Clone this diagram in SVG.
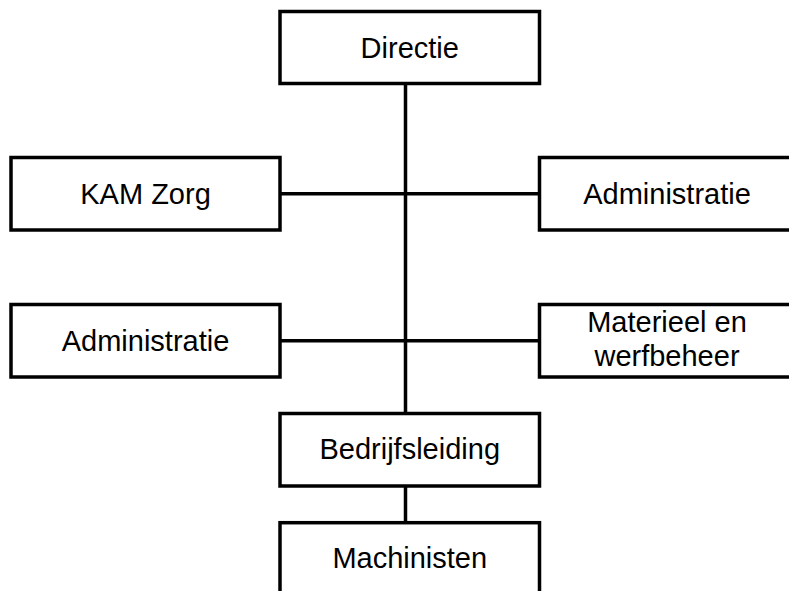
<svg xmlns="http://www.w3.org/2000/svg" width="789" height="591" viewBox="0 0 789 591">
<style>
.box{fill:#fff;stroke:#000;stroke-width:3.5}
.lbl{font-family:"Liberation Sans",Arial,sans-serif;font-size:29px;fill:#000;text-anchor:middle}
.con{stroke:#000;stroke-width:3.5;fill:none}
</style>
<rect width="789" height="591" fill="#fff"/>
<g id="connectors">
<line class="con" x1="405.5" y1="83.5" x2="405.5" y2="413.5"/>
<line class="con" x1="280" y1="193.75" x2="539.5" y2="193.75"/>
<line class="con" x1="280" y1="340.75" x2="539.5" y2="340.75"/>
<line class="con" x1="405.5" y1="486" x2="405.5" y2="522.7"/>
</g>
<g id="directie">
<rect class="box" x="280" y="11.5" width="259.5" height="72"/>
<text class="lbl" x="409.75" y="57.8">Directie</text>
</g>
<g id="kam-zorg">
<rect class="box" x="11" y="157.5" width="269" height="72.5"/>
<text class="lbl" x="145.5" y="203.8">KAM Zorg</text>
</g>
<g id="administratie-rechts">
<rect class="box" x="539.5" y="157.5" width="262" height="72.5"/>
<text class="lbl" x="667" y="203.8">Administratie</text>
</g>
<g id="administratie-links">
<rect class="box" x="11" y="304.5" width="269" height="72.5"/>
<text class="lbl" x="145.5" y="350.8">Administratie</text>
</g>
<g id="materieel">
<rect class="box" x="539.5" y="304.5" width="262" height="72.5"/>
<text class="lbl" x="667" y="332">Materieel en</text>
<text class="lbl" x="667" y="366">werfbeheer</text>
</g>
<g id="bedrijfsleiding">
<rect class="box" x="280" y="413.5" width="259.5" height="72.5"/>
<text class="lbl" x="409.75" y="459.3">Bedrijfsleiding</text>
</g>
<g id="machinisten">
<rect class="box" x="280" y="522.7" width="259.5" height="90"/>
<text class="lbl" x="409.75" y="568.3">Machinisten</text>
</g>
</svg>
